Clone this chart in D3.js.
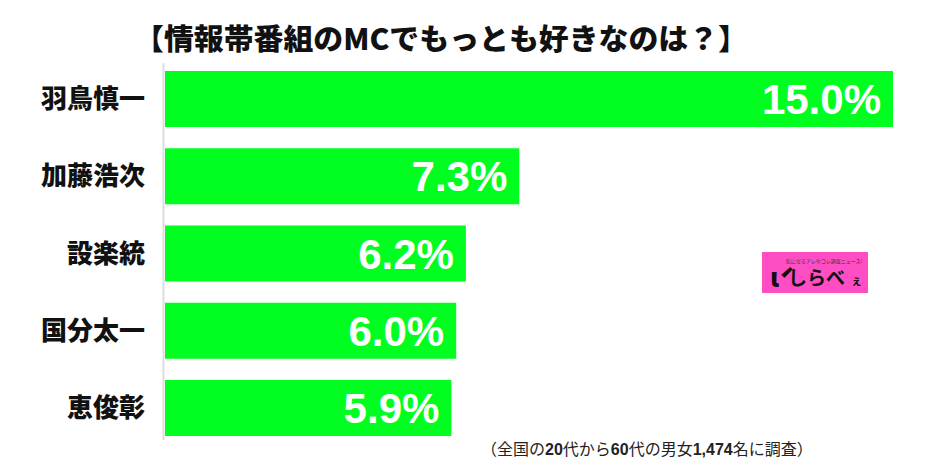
<!DOCTYPE html>
<html>
<head>
<meta charset="utf-8">
<script src="https://cdn.jsdelivr.net/npm/d3@7"></script>
<style>
body{margin:0;background:#fff;}
svg{display:block;font-family:"Noto Sans CJK JP",sans-serif;}
</style>
</head>
<body>
<div id="chart"></div>
<script>
var names=["羽鳥慎一","加藤浩次","設楽統","国分太一","恵俊彰"];
var values=[15.0,7.3,6.2,6.0,5.9];
var title="【情報帯番組のMCでもっとも好きなのは？】";

var width=926,height=462;

var svg=d3.select("#chart").append("svg")
	.attr("width",width).attr("height",height);

var x=d3.scaleLinear().domain([0,15]).range([165,893]);
var y=d3.scaleBand().domain(names).range([71,436]).paddingInner(0.275).paddingOuter(0);

//title
svg.append("text").attr("x",441).attr("y",50).attr("text-anchor","middle")
	.attr("font-size",29).attr("font-weight",900).attr("fill","#111")
	.attr("textLength",614).attr("lengthAdjust","spacingAndGlyphs")
	.text(title);

//bars
var g=svg.append("g");
g.selectAll("rect").data(values).enter().append("rect")
	.attr("x",x(0)).attr("y",function(d,i){return y(names[i]);})
	.attr("width",function(d){return x(d)-x(0);})
	.attr("height",y.bandwidth())
	.attr("fill","#00ff21");

g.selectAll("text.val").data(values).enter().append("text").attr("class","val")
	.attr("x",function(d){return x(d)-12;})
	.attr("y",function(d,i){return y(names[i])+y.bandwidth()/2+15;})
	.attr("text-anchor","end")
	.attr("font-family","'Liberation Sans',Arial,sans-serif")
	.attr("font-weight","bold").attr("font-size",42).attr("fill","#fff")
	.text(function(d){return d.toFixed(1)+"%";});

//axis line
svg.append("line").attr("x1",163.5).attr("x2",163.5).attr("y1",63).attr("y2",440)
	.attr("stroke","#ddd").attr("stroke-width",2);

//category labels
svg.selectAll("text.name").data(names).enter().append("text").attr("class","name")
	.attr("x",145).attr("y",function(d){return y(d)+y.bandwidth()/2+9;})
	.attr("text-anchor","end").attr("font-size",26).attr("font-weight",900).attr("fill","#111")
	.text(function(d){return d;});

//footnote
var foot=svg.append("text").attr("x",481).attr("y",455).attr("font-size",16).attr("fill","#222");
var parts=[["（全国の",0],["20",1],["代から",0],["60",1],["代の男女",0],["1,474",1],["名に調査）",0]];
parts.forEach(function(p){
	foot.append("tspan").attr("font-weight",p[1]?"bold":"normal")
		.attr("font-family",p[1]?"'Liberation Sans',Arial,sans-serif":null)
		.text(p[0]);
});

//logo
var logo=svg.append("g").attr("transform","translate(762,252)");
logo.append("rect").attr("width",106).attr("height",41).attr("fill","#ff4dc4");
logo.append("text").attr("x",62).attr("y",11).attr("text-anchor","middle").attr("font-size",5).attr("fill","#333").text("気になるアレやコレ調査ニュース!");
logo.append("text").attr("x",8).attr("y",35).attr("font-size",26).attr("font-weight",900).attr("fill","#111").text("ί");
logo.append("text").attr("x",26).attr("y",33).attr("font-size",19).attr("font-weight",700).attr("fill","#111").text("しらべ");
logo.append("text").attr("x",89).attr("y",33).attr("font-size",11).attr("font-weight",700).attr("fill","#111").text("ぇ");
</script>
</body>
</html>
